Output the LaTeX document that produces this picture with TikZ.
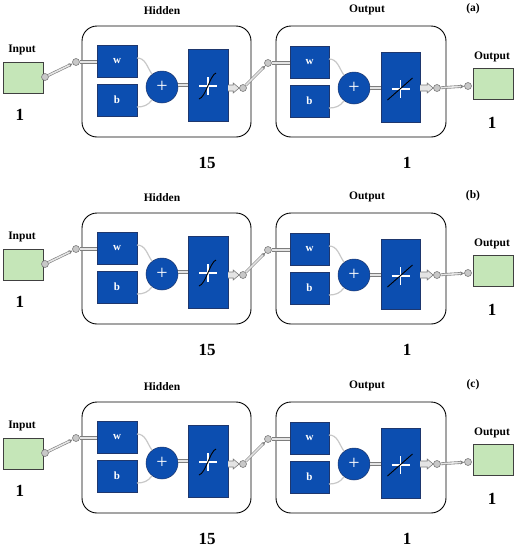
\documentclass[tikz,border=0pt]{standalone}
\usepackage{fontspec}
\setmainfont{Liberation Serif}
\usetikzlibrary{arrows.meta,calc}
\definecolor{nnblue}{RGB}{12,78,176}
\definecolor{nnblueedge}{RGB}{30,55,110}
\definecolor{nngreen}{RGB}{197,230,184}
\definecolor{pipeout}{RGB}{125,125,125}
\definecolor{pipein}{RGB}{228,228,228}
\definecolor{arcgray}{RGB}{200,200,200}
\tikzset{
  lab/.style={font=\bfseries\fontsize{11.5}{13}\selectfont, inner sep=0pt},
  num/.style={font=\bfseries\fontsize{17}{19}\selectfont, inner sep=0pt},
  wtxt/.style={font=\bfseries\fontsize{11}{12}\selectfont, text=white},
  gbox/.style={draw=black!75, line width=0.8pt, fill=nngreen, inner sep=0pt, outer sep=0pt, minimum width=40pt, minimum height=31pt},
  panel/.style={draw=black, line width=0.9pt, fill=white, rounded corners=15pt, inner sep=0pt, outer sep=0pt},
  bbox/.style={draw=nnblueedge, line width=0.5pt, fill=nnblue, inner sep=0pt, outer sep=0pt, wtxt},
  pluscirc/.style={circle, draw=nnblueedge, line width=0.5pt, fill=nnblue, inner sep=0pt, minimum size=32pt, text=white, font=\fontsize{20}{20}\selectfont},
  dot/.style={circle, draw=pipeout, line width=0.6pt, fill=arcgray, inner sep=0pt, minimum size=7pt},
  pipe/.style={draw=pipeout, double=pipein, line width=0.6pt, double distance=1.6pt},
  thickpipe/.style={draw=pipeout, double=pipein, line width=0.6pt, double distance=2.6pt},
  fatarrow/.style={draw=pipeout, fill=pipein, line width=0.6pt, line join=miter},
  wirearc/.style={draw=arcgray, line width=1.2pt},
  crossline/.style={draw=white, line width=1.8pt},
  curveline/.style={draw=black, line width=0.9pt},
}
\begin{document}
\begin{tikzpicture}[x=1pt,y=-1pt]
\useasboundingbox (0,0) rectangle (517,550);
\fill[white] (0,0) rectangle (517,550);
\foreach \dy/\lab [count=\i] in {0/a,187/b,376/c} {
\begin{scope}[yshift=-\dy pt]
  % labels
  \node[lab] (hid\i) at (162,11) {Hidden};
  \node[lab] (outl\i) at (367,10) {Output};
  \node[lab] (tag\i) at (473,9) {(\lab)};
  \node[lab] (inl\i) at (22,50) {Input};
  \node[lab] (outl2\i) at (492,57) {Output};
  \node[num] (n1\i) at (20,115) {1};
  \node[num] (n15\i) at (207,163) {15};
  \node[num] (n1b\i) at (407,163) {1};
  \node[num] (n1c\i) at (492,123) {1};
  % boxes
  \node[gbox] (in\i) at (23,77.5) {};
  \node[gbox] (out\i) at (493,83.5) {};
  \node[panel, minimum width=169pt, minimum height=111pt] (hb\i) at (166.5,81.5) {};
  \node[panel, minimum width=170pt, minimum height=111pt] (ob\i) at (361,81.5) {};
  % hidden layer
  \node[bbox, minimum width=40pt, minimum height=32pt] (wa\i) at (117,61) {w};
  \node[bbox, minimum width=40pt, minimum height=32pt] (ba\i) at (117,100) {b};
  \node[pluscirc] (pa\i) at (162,87) {+};
  \node[bbox, minimum width=40pt, minimum height=72pt] (ta\i) at (208,85) {};
  % output layer
  \node[bbox, minimum width=39pt, minimum height=32pt] (wb\i) at (309.5,62) {w};
  \node[bbox, minimum width=39pt, minimum height=32pt] (bb\i) at (309.5,101) {b};
  \node[pluscirc] (pb\i) at (354,88) {+};
  \node[bbox, minimum width=39pt, minimum height=70pt] (tb\i) at (400.5,87) {};
  % wire arcs
  \draw[wirearc] ($(wa\i.east)+(0,-3)$) to[out=0,in=125] (pa\i.128);
  \draw[wirearc] ($(ba\i.east)+(0,7)$) to[out=0,in=-125] (pa\i.-128);
  \draw[wirearc] ($(wb\i.east)+(0,-3)$) to[out=0,in=125] (pb\i.128);
  \draw[wirearc] ($(bb\i.east)+(0,7)$) to[out=0,in=-125] (pb\i.-128);
  % transfer icons
  \draw[crossline] ($(ta\i)+(-9,1)$) -- ($(ta\i)+(9,1)$);
  \draw[crossline] ($(ta\i)+(0,-8)$) -- ($(ta\i)+(0,10)$);
  \draw[curveline] ($(ta\i)+(-9,14)$) .. controls ($(ta\i)+(-2,12)$) and ($(ta\i)+(2,-10)$) .. ($(ta\i)+(8,-12)$);
  \draw[crossline] ($(tb\i)+(-9,2)$) -- ($(tb\i)+(9,2)$);
  \draw[crossline] ($(tb\i)+(0,-7)$) -- ($(tb\i)+(0,11)$);
  \draw[curveline] ($(tb\i)+(-13,13)$) -- ($(tb\i)+(12,-9)$);
  % connection dots
  \node[dot] (c0\i) at (45,77) {};
  \node[dot] (c1\i) at (76,62) {};
  \node[dot] (c2\i) at (243,88) {};
  \node[dot] (c3\i) at (268,63) {};
  \node[dot] (c4\i) at (437,88) {};
  \node[dot] (c5\i) at (468,86) {};
  % pipes
  \draw[pipe, -{Stealth[length=4pt,width=4pt,open]}] (c0\i) -- (c1\i);
  \draw[thickpipe] (c1\i.east) -- (c1\i.east -| wa\i.west);
  \draw[thickpipe] (pa\i.east |- ta\i.west) -- (ta\i.west);
  \draw[pipe, -{Stealth[length=4pt,width=4pt,open]}] (c2\i) -- (c3\i);
  \draw[thickpipe] (c3\i.east) -- (c3\i.east -| wb\i.west);
  \draw[thickpipe] (pb\i.east) -- (pb\i.east -| tb\i.west);
  \draw[pipe, -{Stealth[length=4pt,width=4pt,open]}] (c4\i) -- (c5\i);
  % fat arrows
  \path (ta\i.east |- c2\i) coordinate (fa\i) (c2\i.west) coordinate (fe\i);
  \draw[fatarrow] ($(fa\i)+(0,-3)$) -- ($(fe\i)+(-6,-3)$) -- ($(fe\i)+(-6,-5)$) -- (fe\i) -- ($(fe\i)+(-6,5)$) -- ($(fe\i)+(-6,3)$) -- ($(fa\i)+(0,3)$);
  \path (tb\i.east |- c4\i) coordinate (fb\i) (c4\i.west) coordinate (ff\i);
  \draw[fatarrow] ($(fb\i)+(0,-3)$) -- ($(ff\i)+(-6,-3)$) -- ($(ff\i)+(-6,-5)$) -- (ff\i) -- ($(ff\i)+(-6,5)$) -- ($(ff\i)+(-6,3)$) -- ($(fb\i)+(0,3)$);
\end{scope}
}
\end{tikzpicture}
\end{document}
